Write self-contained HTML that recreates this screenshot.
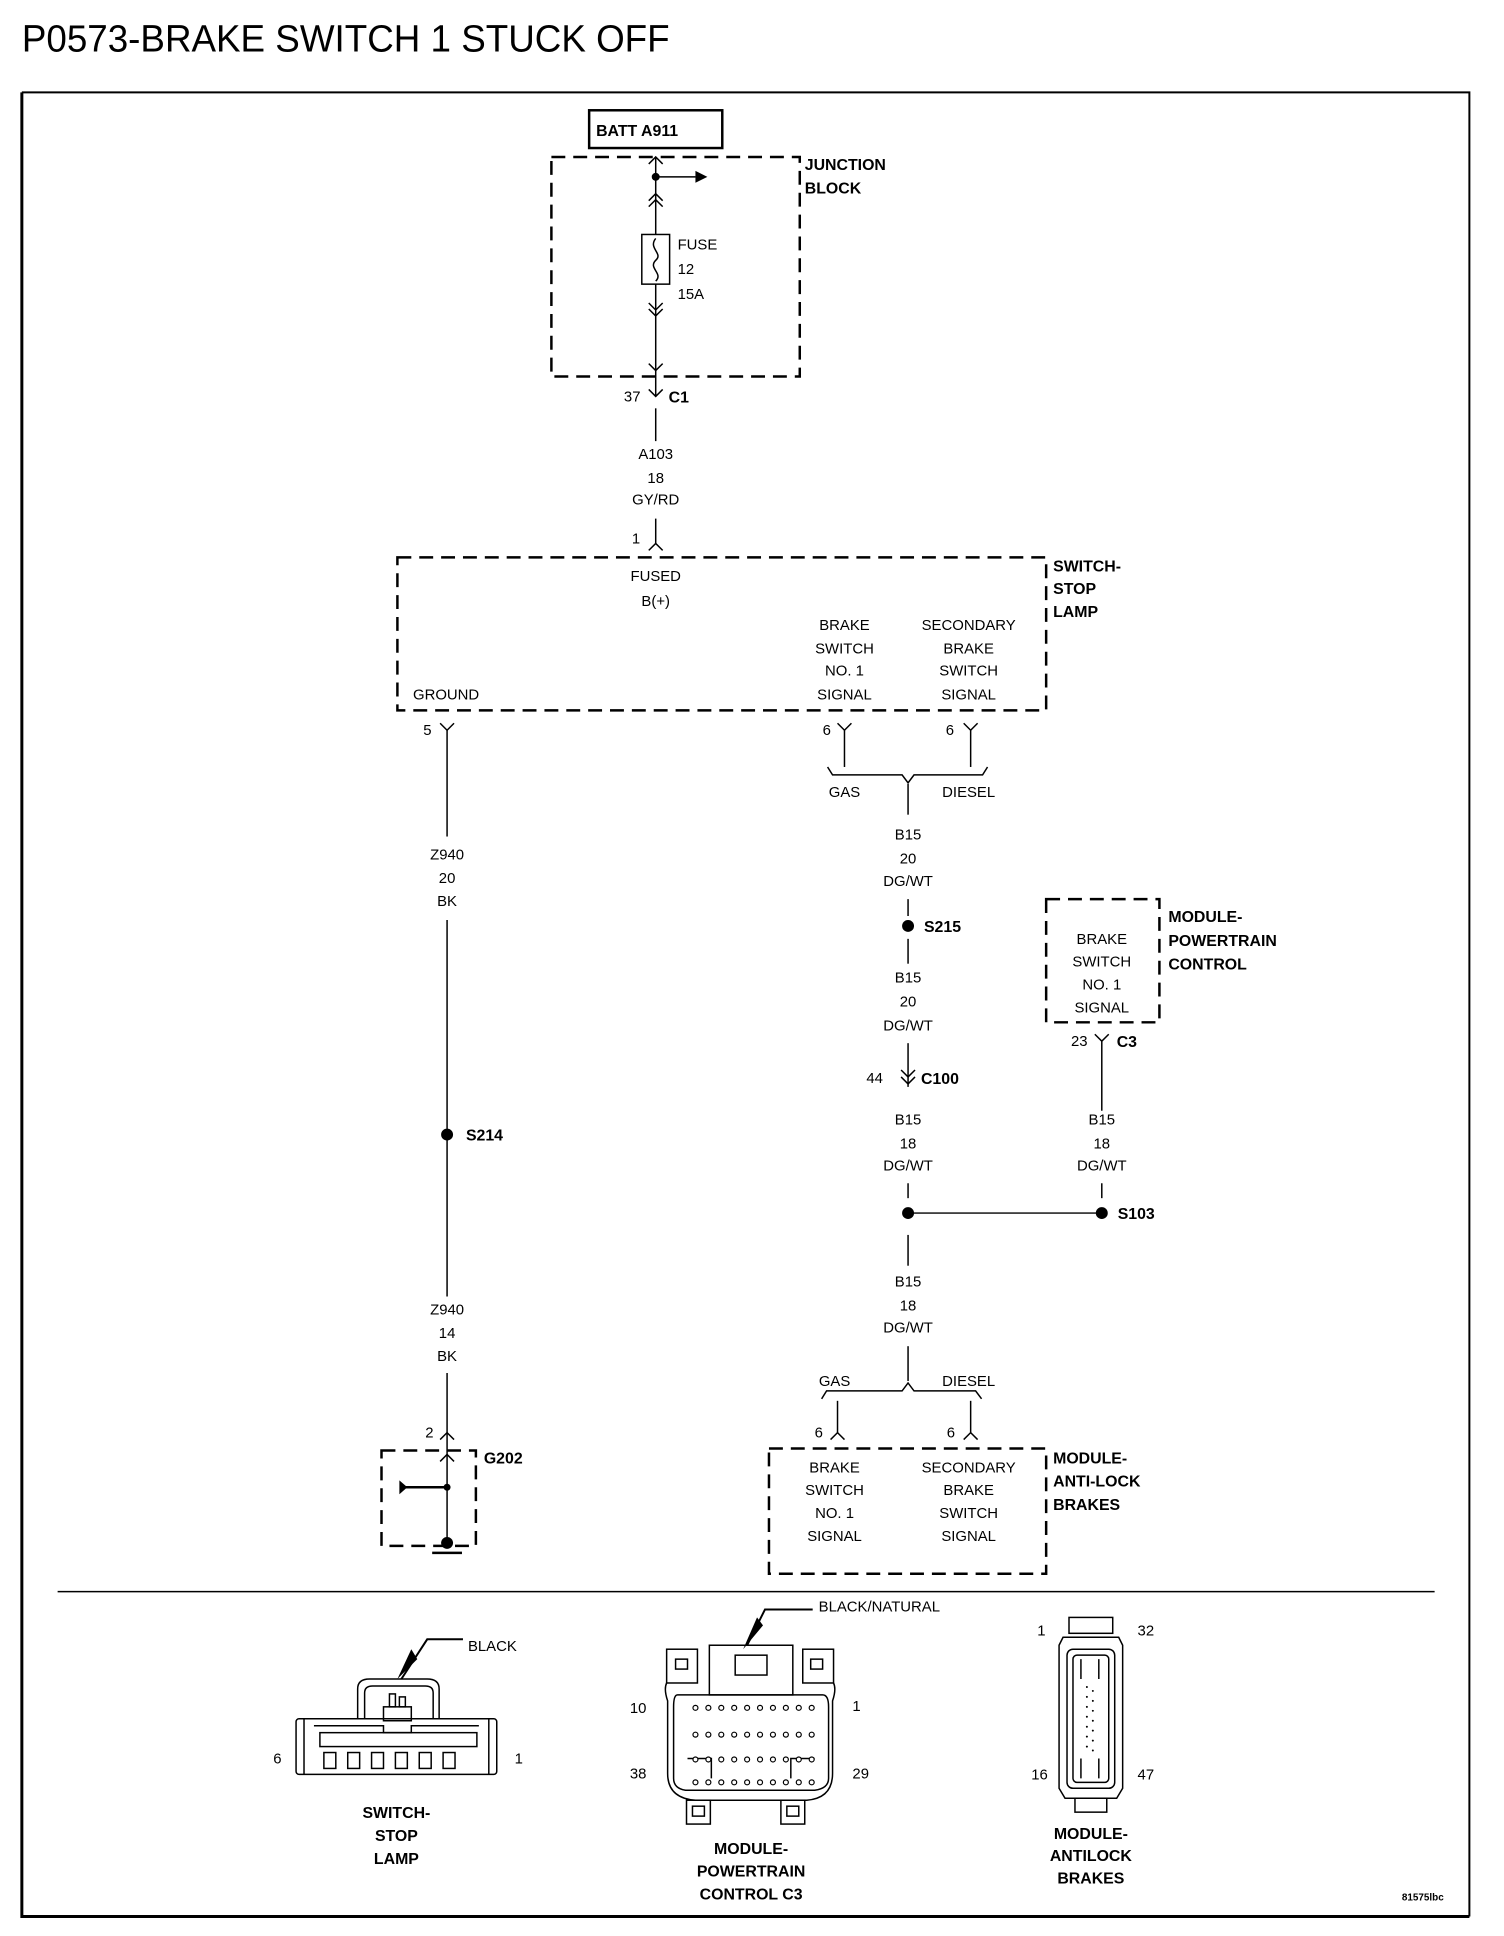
<!DOCTYPE html>
<html><head><meta charset="utf-8"><style>
html,body{margin:0;padding:0;background:#fff}
svg{display:block}
.t{font-family:"Liberation Sans Narrow","Liberation Sans",sans-serif;font-size:15px;fill:#000}
.b{font-family:"Liberation Sans",sans-serif;font-size:16px;font-weight:bold;fill:#000}
.c{text-anchor:middle}
</style></head><body>
<svg width="1504" height="1936" viewBox="0 0 1504 1936" xmlns="http://www.w3.org/2000/svg">
<g transform="scale(0.9935)">
<text x="22" y="52" font-family="Liberation Sans,sans-serif" font-size="38" textLength="652" lengthAdjust="spacingAndGlyphs">P0573-BRAKE SWITCH 1 STUCK OFF</text>
<g fill="none" stroke="#000">
<path d="M22 93 H1479 V1929" stroke-width="2"/>
<path d="M22 93 V1929 H1479" stroke-width="3"/>
<line x1="58" y1="1602" x2="1444" y2="1602" stroke-width="1.5"/>
<rect x="593" y="111" width="134" height="38" stroke-width="2.5"/>
</g>
<text class="b" x="600" y="137">BATT A911</text>
<g fill="none" stroke="#000" stroke-width="2.5" stroke-dasharray="14,8">
<rect x="555" y="158" width="250" height="221"/>
<rect x="400" y="561" width="653" height="154"/>
<rect x="1053" y="905" width="114" height="124"/>
<rect x="384" y="1460" width="95" height="96"/>
<rect x="774" y="1458" width="279" height="126"/>
</g>
<g fill="none" stroke="#000" stroke-width="1.5">
<line x1="660" y1="158" x2="660" y2="236"/>
<line x1="660" y1="286" x2="660" y2="399"/>
<line x1="660" y1="178" x2="700" y2="178"/>
<path d="M653 165 L660 158 L667 165"/>
<path d="M653 202 L660 195 L667 202 M653 208 L660 201 L667 208"/>
<rect x="646" y="236" width="28" height="50"/>
<path d="M660 240 C652 250 668 255 660 262 C652 270 668 275 660 283"/>
<path d="M653 305 L660 312 L667 305 M653 311 L660 318 L667 311"/>
<path d="M653 366 L660 373 L667 366"/>
<path d="M653 392 L660 399 L667 392"/>
<line x1="660" y1="411" x2="660" y2="444"/>
<line x1="660" y1="522" x2="660" y2="547"/>
<path d="M653 554 L660 547 L667 554"/>
<path d="M443 728 L450 735 L457 728"/>
<line x1="450" y1="735" x2="450" y2="842"/>
<line x1="450" y1="926" x2="450" y2="1305"/>
<line x1="450" y1="1382" x2="450" y2="1553"/>
<path d="M443 1449 L450 1442 L457 1449"/>
<path d="M443 1471 L450 1464 L457 1471"/>
<line x1="450" y1="1497" x2="408" y2="1497" stroke-width="2.5"/>
<line x1="435" y1="1563" x2="465" y2="1563" stroke-width="2.5"/>
<path d="M843 728 L850 735 L857 728"/>
<path d="M970 728 L977 735 L984 728"/>
<line x1="850" y1="735" x2="850" y2="772"/>
<line x1="977" y1="735" x2="977" y2="772"/>
<path d="M833 772 L838 780 H908 L914 788 L920 780 H989 L994 772"/>
<line x1="914" y1="789" x2="914" y2="820"/>
<line x1="914" y1="905" x2="914" y2="922"/>
<line x1="914" y1="945" x2="914" y2="970"/>
<line x1="914" y1="1050" x2="914" y2="1094"/>
<path d="M907 1077 L914 1084 L921 1077 M907 1084 L914 1091 L921 1084"/>
<line x1="914" y1="1191" x2="914" y2="1206"/>
<line x1="914" y1="1243" x2="914" y2="1274"/>
<line x1="914" y1="1221" x2="1109" y2="1221"/>
<line x1="914" y1="1355" x2="914" y2="1390"/>
<path d="M827 1408 L832 1400 H908 L914 1392 L920 1400 H982 L988 1408"/>
<line x1="843" y1="1410" x2="843" y2="1442"/>
<line x1="977" y1="1410" x2="977" y2="1442"/>
<path d="M836 1449 L843 1442 L850 1449"/>
<path d="M970 1449 L977 1442 L984 1449"/>
<path d="M1102 1041 L1109 1048 L1116 1041"/>
<line x1="1109" y1="1048" x2="1109" y2="1118"/>
<line x1="1109" y1="1191" x2="1109" y2="1206"/>
</g>
<g fill="#000">
<circle cx="660" cy="178" r="4"/>
<path d="M700 172 L712 178 L700 184 Z"/>
<circle cx="450" cy="1142" r="6"/>
<circle cx="914" cy="932" r="6"/>
<circle cx="914" cy="1221" r="6"/>
<circle cx="1109" cy="1221" r="6"/>
<circle cx="450" cy="1497" r="3.5"/>
<circle cx="450" cy="1553" r="6"/>
<path d="M402 1490 L410 1497 L402 1504 Z"/>
</g>
<g class="b">
<text x="810" y="171">JUNCTION</text><text x="810" y="195">BLOCK</text>
<text x="673" y="405">C1</text>
<text x="1060" y="575">SWITCH-</text><text x="1060" y="598">STOP</text><text x="1060" y="621">LAMP</text>
<text x="469" y="1148">S214</text>
<text x="930" y="938">S215</text>
<text x="927" y="1091">C100</text>
<text x="1125" y="1227">S103</text>
<text x="1124" y="1054">C3</text>
<text x="487" y="1473">G202</text>
<text x="1176" y="928">MODULE-</text><text x="1176" y="952">POWERTRAIN</text><text x="1176" y="976">CONTROL</text>
<text x="1060" y="1473">MODULE-</text><text x="1060" y="1496">ANTI-LOCK</text><text x="1060" y="1520">BRAKES</text>
</g>
<g class="t">
<text x="682" y="251">FUSE</text><text x="682" y="276">12</text><text x="682" y="301">15A</text>
<text x="628" y="404">37</text>
<text class="c" x="660" y="462">A103</text><text class="c" x="660" y="486">18</text><text class="c" x="660" y="508">GY/RD</text>
<text x="636" y="547">1</text>
<text class="c" x="660" y="585">FUSED</text><text class="c" x="660" y="610">B(+)</text>
<text class="c" x="850" y="634">BRAKE</text><text class="c" x="850" y="658">SWITCH</text><text class="c" x="850" y="680">NO. 1</text><text class="c" x="850" y="704">SIGNAL</text>
<text class="c" x="975" y="634">SECONDARY</text><text class="c" x="975" y="658">BRAKE</text><text class="c" x="975" y="680">SWITCH</text><text class="c" x="975" y="704">SIGNAL</text>
<text class="c" x="449" y="704">GROUND</text>
<text x="426" y="740">5</text><text x="828" y="740">6</text><text x="952" y="740">6</text>
<text class="c" x="850" y="802">GAS</text><text class="c" x="975" y="802">DIESEL</text>
<text class="c" x="450" y="865">Z940</text><text class="c" x="450" y="889">20</text><text class="c" x="450" y="912">BK</text>
<text class="c" x="450" y="1323">Z940</text><text class="c" x="450" y="1347">14</text><text class="c" x="450" y="1370">BK</text>
<text x="428" y="1447">2</text>
<text class="c" x="914" y="845">B15</text><text class="c" x="914" y="869">20</text><text class="c" x="914" y="892">DG/WT</text>
<text class="c" x="914" y="989">B15</text><text class="c" x="914" y="1013">20</text><text class="c" x="914" y="1037">DG/WT</text>
<text x="872" y="1090">44</text>
<text class="c" x="914" y="1132">B15</text><text class="c" x="914" y="1156">18</text><text class="c" x="914" y="1178">DG/WT</text>
<text class="c" x="1109" y="1132">B15</text><text class="c" x="1109" y="1156">18</text><text class="c" x="1109" y="1178">DG/WT</text>
<text class="c" x="914" y="1295">B15</text><text class="c" x="914" y="1319">18</text><text class="c" x="914" y="1341">DG/WT</text>
<text class="c" x="840" y="1395">GAS</text><text class="c" x="975" y="1395">DIESEL</text>
<text x="820" y="1447">6</text><text x="953" y="1447">6</text>
<text class="c" x="1109" y="950">BRAKE</text><text class="c" x="1109" y="973">SWITCH</text><text class="c" x="1109" y="996">NO. 1</text><text class="c" x="1109" y="1019">SIGNAL</text>
<text x="1078" y="1053">23</text>
<text class="c" x="840" y="1482">BRAKE</text><text class="c" x="840" y="1505">SWITCH</text><text class="c" x="840" y="1528">NO. 1</text><text class="c" x="840" y="1551">SIGNAL</text>
<text class="c" x="975" y="1482">SECONDARY</text><text class="c" x="975" y="1505">BRAKE</text><text class="c" x="975" y="1528">SWITCH</text><text class="c" x="975" y="1551">SIGNAL</text>
<text x="471" y="1662">BLACK</text>
<text x="275" y="1775">6</text><text x="518" y="1775">1</text>
<text x="824" y="1622">BLACK/NATURAL</text>
<text x="634" y="1724">10</text><text x="858" y="1722">1</text>
<text x="634" y="1790">38</text><text x="858" y="1790">29</text>
<text x="1044" y="1646">1</text><text x="1145" y="1646">32</text>
<text x="1038" y="1791">16</text><text x="1145" y="1791">47</text>
</g>
<g class="b c">
<text x="399" y="1830">SWITCH-</text><text x="399" y="1853">STOP</text><text x="399" y="1876">LAMP</text>
<text x="756" y="1866">MODULE-</text><text x="756" y="1889">POWERTRAIN</text><text x="756" y="1912">CONTROL C3</text>
<text x="1098" y="1851">MODULE-</text><text x="1098" y="1873">ANTILOCK</text><text x="1098" y="1896">BRAKES</text>
</g>
<text x="1411" y="1913" font-family="Liberation Sans,sans-serif" font-size="10" font-weight="bold">81575lbc</text>
<g fill="none" stroke="#000" stroke-width="1.5">
<rect x="298" y="1730" width="202" height="56" rx="3"/>
<line x1="306" y1="1730" x2="306" y2="1786"/><line x1="492" y1="1730" x2="492" y2="1786"/>
<path d="M360 1730 V1700 Q360 1690 372 1690 H430 Q442 1690 442 1700 V1730"/>
<path d="M367 1730 V1704 Q367 1697 375 1697 H428 Q436 1697 436 1704 V1730"/>
<rect x="386" y="1718" width="28" height="14"/>
<rect x="392" y="1705" width="6" height="13"/><rect x="402" y="1708" width="6" height="10"/>
<path d="M316 1737 H386 V1744 H414 V1737 H482"/>
<rect x="322" y="1744" width="158" height="14"/>
<g><rect x="326" y="1764" width="12" height="16"/><rect x="350" y="1764" width="12" height="16"/><rect x="374" y="1764" width="12" height="16"/><rect x="398" y="1764" width="12" height="16"/><rect x="422" y="1764" width="12" height="16"/><rect x="446" y="1764" width="12" height="16"/></g>
<path d="M404 1690 L430 1650 H466" stroke-width="2"/>
</g>
<path d="M400 1690 L414 1660 L420 1670 Z" fill="#000"/>
<g fill="none" stroke="#000" stroke-width="1.5">
<rect x="671" y="1660" width="31" height="34"/><rect x="808" y="1660" width="31" height="34"/>
<rect x="680" y="1670" width="12" height="10"/><rect x="816" y="1670" width="12" height="10"/>
<rect x="714" y="1656" width="84" height="50"/>
<rect x="740" y="1666" width="32" height="20"/>
<path d="M671 1694 Q668 1700 672 1712 V1785 Q672 1810 700 1812 H812 Q838 1810 838 1785 V1712 Q842 1700 839 1694"/>
<path d="M682 1706 H828 Q834 1706 834 1718 V1790 Q834 1800 820 1802 H690 Q678 1800 678 1790 V1718 Q678 1706 682 1706"/>
<rect x="691" y="1812" width="24" height="24"/><rect x="786" y="1812" width="24" height="24"/>
<rect x="697" y="1818" width="12" height="10"/><rect x="792" y="1818" width="12" height="10"/>
<path d="M716 1790 V1770 H692 M796 1790 V1770 H820"/>
<path d="M752 1656 L770 1620 H818" stroke-width="2"/>
</g>
<g fill="#fff" stroke="#000" stroke-width="1.2">
<g id="r1"><circle cx="700" cy="1719" r="2.5"/><circle cx="713" cy="1719" r="2.5"/><circle cx="726" cy="1719" r="2.5"/><circle cx="739" cy="1719" r="2.5"/><circle cx="752" cy="1719" r="2.5"/><circle cx="765" cy="1719" r="2.5"/><circle cx="778" cy="1719" r="2.5"/><circle cx="791" cy="1719" r="2.5"/><circle cx="804" cy="1719" r="2.5"/><circle cx="817" cy="1719" r="2.5"/></g>
<use href="#r1" y="27"/><use href="#r1" y="52"/><use href="#r1" y="75"/>
</g>
<path d="M748 1660 L762 1628 L768 1636 Z" fill="#000"/>
<g fill="none" stroke="#000" stroke-width="1.5">
<rect x="1076" y="1628" width="44" height="16"/>
<path d="M1070 1648 H1126 L1130 1656 V1800 L1124 1810 H1072 L1066 1800 V1656 Z"/>
<rect x="1074" y="1660" width="48" height="140" rx="6"/>
<rect x="1080" y="1666" width="36" height="128" rx="4"/>
<line x1="1088" y1="1670" x2="1088" y2="1690"/><line x1="1106" y1="1670" x2="1106" y2="1690"/>
<line x1="1088" y1="1770" x2="1088" y2="1790"/><line x1="1106" y1="1770" x2="1106" y2="1790"/>
<rect x="1082" y="1810" width="32" height="14"/>
</g>
<g fill="#000">
<circle cx="1094" cy="1698" r="1"/><circle cx="1100" cy="1702" r="1"/><circle cx="1094" cy="1708" r="1"/><circle cx="1100" cy="1712" r="1"/><circle cx="1094" cy="1718" r="1"/><circle cx="1100" cy="1722" r="1"/><circle cx="1094" cy="1728" r="1"/><circle cx="1100" cy="1732" r="1"/><circle cx="1094" cy="1738" r="1"/><circle cx="1100" cy="1742" r="1"/><circle cx="1094" cy="1748" r="1"/><circle cx="1100" cy="1752" r="1"/><circle cx="1094" cy="1758" r="1"/><circle cx="1100" cy="1762" r="1"/>
</g>
</g>
</svg>
</body></html>
